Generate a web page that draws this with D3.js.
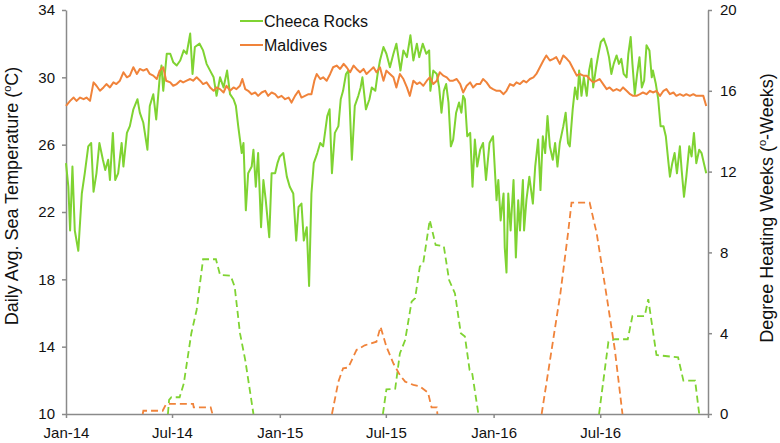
<!DOCTYPE html>
<html>
<head>
<meta charset="utf-8">
<script src="https://cdn.jsdelivr.net/npm/d3@7"></script>
<style>
  body { margin: 0; background: #fff; }
  svg { font-family: "Liberation Sans", Arial, sans-serif; }
</style>
</head>
<body>
<svg id="chart" width="780" height="443"></svg>
<script>
// [day since 1 Jan 2014, value]
let cheecaSst = [[0,24.9],[4,23.5],[7,20.9],[11,24.7],[15,20.9],[21,19.7],[27,23.1],[32,24.3],[38,25.9],[43,26.1],[47,23.2],[52,24.3],[57,26.1],[63,25.1],[67,24.5],[72,25.1],[75,23.9],[80,26.7],[84,23.9],[89,24.3],[95,26.1],[98,24.7],[104,26.7],[109,27.1],[115,28.1],[122,28.7],[126,27.9],[132,27.3],[139,25.7],[143,28.3],[149,29.0],[154,27.5],[160,30.0],[163,30.7],[166,29.2],[172,31.4],[178,31.4],[183,30.9],[189,30.7],[195,31.0],[201,31.6],[206,31.4],[212,32.6],[216,30.2],[220,31.8],[228,32.0],[234,31.6],[240,30.8],[246,30.4],[252,30.0],[257,28.9],[263,30.0],[269,29.4],[275,30.4],[280,29.0],[286,28.7],[290,28.3],[294,27.1],[300,25.5],[303,26.1],[307,22.1],[311,24.3],[317,24.7],[320,25.7],[324,23.5],[328,25.5],[333,21.1],[337,23.9],[341,22.7],[347,20.5],[351,24.3],[357,24.3],[361,24.9],[365,25.3],[371,25.5],[377,24.1],[382,23.5],[388,23.1],[393,20.3],[397,22.3],[402,22.5],[406,20.3],[411,21.1],[415,17.6],[419,23.1],[423,24.9],[429,25.5],[434,26.1],[439,25.9],[446,27.7],[450,28.1],[454,24.3],[459,26.7],[465,27.1],[469,28.7],[473,29.2],[478,30.2],[482,30.4],[488,25.1],[493,28.3],[499,28.9],[503,29.4],[506,30.0],[512,28.1],[518,28.7],[522,29.4],[528,29.2],[532,30.2],[536,31.0],[542,31.8],[547,31.4],[553,30.6],[559,31.4],[564,32.0],[571,30.4],[576,31.6],[582,31.2],[588,32.5],[593,31.0],[599,32.0],[603,31.2],[609,32.0],[615,31.4],[620,31.6],[622,29.2],[627,30.4],[633,30.2],[637,29.4],[641,27.9],[645,29.2],[649,29.6],[653,28.5],[657,25.9],[661,26.3],[666,27.9],[671,28.5],[675,27.9],[678,28.9],[681,28.7],[685,26.5],[690,26.7],[694,23.5],[698,26.3],[702,24.7],[707,25.7],[712,26.1],[717,23.9],[723,26.1],[729,26.5],[735,22.7],[738,23.9],[742,21.5],[747,23.1],[749,19.9],[752,18.4],[755,23.1],[759,20.9],[764,23.9],[768,19.3],[772,22.7],[775,20.9],[780,23.9],[782,20.9],[786,22.7],[791,24.1],[797,22.5],[801,24.7],[806,26.3],[810,23.3],[814,26.5],[818,25.5],[822,27.7],[826,25.9],[831,25.1],[835,26.1],[839,24.7],[843,26.1],[849,27.1],[853,27.9],[857,26.1],[860,25.9],[865,28.1],[869,29.4],[873,28.7],[876,30.4],[880,28.9],[884,30.0],[889,28.9],[893,30.4],[897,31.1],[900,29.4],[905,30.6],[909,31.4],[913,32.1],[918,32.3],[923,31.8],[927,31.2],[931,30.2],[935,30.8],[940,31.3],[944,30.8],[948,31.1],[952,30.2],[957,30.0],[960,31.4],[964,32.4],[967,30.8],[971,29.0],[975,30.2],[979,31.2],[983,29.4],[987,29.8],[991,31.9],[996,31.6],[1000,30.0],[1002,30.4],[1007,29.6],[1011,28.7],[1015,27.1],[1020,27.1],[1024,26.5],[1028,25.1],[1031,24.1],[1035,24.9],[1039,25.5],[1043,24.3],[1048,25.9],[1051,24.5],[1055,22.9],[1059,24.1],[1064,25.9],[1068,25.3],[1072,26.7],[1076,24.9],[1081,25.7],[1085,25.5],[1089,24.9],[1093,24.3]];

let maldivesSst = [[0,28.3],[7,28.6],[13,28.8],[18,28.6],[24,28.8],[30,28.7],[35,28.8],[41,28.6],[47,29.7],[52,29.5],[58,29.2],[64,29.4],[69,29.6],[75,29.4],[81,29.7],[86,29.6],[92,29.8],[98,30.3],[104,30.0],[109,30.1],[115,30.6],[121,30.2],[126,30.5],[132,30.4],[138,30.5],[143,30.2],[149,30.1],[155,29.9],[160,30.4],[166,30.6],[171,29.8],[178,29.7],[183,29.5],[189,29.6],[195,29.8],[200,29.7],[206,29.8],[212,29.9],[217,29.8],[223,30.0],[229,29.8],[234,29.6],[240,29.7],[246,29.4],[252,29.2],[257,29.4],[263,29.3],[269,29.1],[274,29.5],[280,29.2],[286,29.4],[291,29.3],[297,29.5],[301,29.9],[306,29.3],[311,29.2],[317,29.0],[323,29.1],[328,28.9],[334,29.1],[340,29.2],[345,28.9],[351,29.1],[357,29.0],[362,28.8],[368,28.9],[374,28.7],[380,28.8],[385,28.5],[391,28.9],[397,29.2],[402,28.8],[408,28.9],[414,29.0],[419,29.0],[424,29.8],[428,30.2],[434,29.9],[439,30.0],[445,29.8],[451,30.2],[456,30.6],[462,30.7],[468,30.5],[474,30.8],[479,30.6],[485,30.3],[491,30.7],[496,30.5],[502,30.3],[508,30.5],[513,30.2],[519,30.4],[525,30.6],[530,30.3],[536,30.6],[542,29.8],[547,30.4],[553,30.2],[559,30.0],[564,29.4],[570,30.2],[576,29.9],[582,29.4],[587,28.9],[593,29.8],[599,29.6],[604,29.7],[610,29.5],[616,29.8],[621,30.0],[627,29.6],[633,29.8],[638,30.3],[644,30.1],[650,30.0],[655,29.8],[661,29.8],[667,29.9],[673,29.6],[678,29.1],[684,29.5],[690,29.7],[695,29.4],[701,29.6],[707,29.6],[712,29.9],[718,29.7],[724,29.4],[729,29.3],[735,29.2],[741,29.2],[747,29.0],[752,29.2],[758,29.6],[764,29.5],[769,29.7],[775,29.6],[781,29.8],[786,29.7],[792,29.9],[798,30.0],[803,30.2],[809,30.6],[815,31.0],[820,31.3],[826,31.0],[832,31.1],[837,31.2],[843,30.8],[849,31.3],[855,31.1],[860,30.9],[866,30.5],[872,30.1],[877,30.2],[883,30.1],[889,30.1],[894,29.9],[900,29.7],[906,29.8],[911,29.9],[917,29.6],[923,29.3],[928,29.4],[934,29.2],[940,29.3],[946,29.2],[951,29.4],[957,29.2],[963,29.0],[968,28.9],[974,28.9],[980,29.0],[985,29.1],[991,29.0],[997,29.2],[1002,29.1],[1008,29.2],[1014,28.9],[1020,29.2],[1025,29.3],[1031,29.0],[1037,29.1],[1042,28.9],[1048,29.0],[1054,28.9],[1059,29.0],[1065,28.9],[1071,29.0],[1076,28.9],[1082,28.9],[1088,28.9],[1093,28.3]];

// degree heating weeks, null = no line
let cheecaDhw = [[174,0],[176,0.7],[180,0.83],[194,0.83],[201,1.5],[214,4.0],[223,5.15],[234,7.66],[256,7.66],[263,6.88],[281,6.85],[288,6.3],[297,4.0],[306,2.67],[320,0],[321,null],
  [541,0],[547,1.22],[562,1.25],[570,3.0],[579,3.66],[590,5.56],[596,5.73],[604,7.29],[610,7.5],[621,9.6],[631,8.37],[645,8.3],[654,6.63],[664,5.97],[674,4.0],[681,3.84],[689,2.18],[693,2.1],[704,0],[705,null],
  [910,0],[926,3.58],[937,3.7],[959,3.7],[967,4.85],[988,4.85],[994,5.69],[1008,2.92],[1045,2.8],[1054,1.65],[1074,1.65],[1081,0]];

let maldivesDhw = [[131,0],[132,0.16],[165,0.16],[171,0.5],[217,0.5],[218,0.33],[247,0.33],[250,0],[251,null],
  [454,0],[465,1.6],[473,2.26],[482,2.3],[496,3.17],[510,3.4],[530,3.58],[537,4.32],[547,3.33],[559,2.5],[570,1.93],[579,1.6],[593,1.44],[604,1.37],[618,1.06],[624,0.33],[633,0.33],[634,0],[635,null],
  [812,0],[844,5.97],[857,8.94],[863,10.46],[894,10.46],[906,8.94],[924,5.64],[937,3.17],[950,0]];

let seriesNames = ["Cheeca Rocks", "Maldives"];
let tempTicks = [10, 14, 18, 22, 26, 30, 34];
let dhwTicks = [0, 4, 8, 12, 16, 20];
let monthTicks = ["2014-01-01", "2014-07-01", "2015-01-01", "2015-07-01", "2016-01-01", "2016-07-01", "2017-01-01"];
let monthLabels = ["Jan-14", "Jul-14", "Jan-15", "Jul-15", "Jan-16", "Jul-16", ""];

let green = "#7fd332";
let orange = "#f0833a";
let axisGrey = "#8a8a8a";

let svg = d3.select("#chart");
let start = new Date(Date.UTC(2014, 0, 1));
let toDate = (d) => d3.utcDay.offset(start, d);

let x = d3.scaleUtc()
    .domain([start, new Date(Date.UTC(2017, 0, 1))])
    .range([66, 708]);
let yTemp = d3.scaleLinear().domain([10, 34]).range([414, 10]);
let yDhw = d3.scaleLinear().domain([0, 20]).range([414, 10]);

let styleAxis = (g) => {
    g.select(".domain").attr("stroke", axisGrey).attr("stroke-width", 1.5);
    g.selectAll(".tick line").attr("stroke", axisGrey).attr("stroke-width", 1.5);
    g.selectAll(".tick text").attr("fill", "#111").style("font-size", "15px")
        .style("font-family", "'Liberation Sans', Arial, sans-serif");
};

let tickDates = monthTicks.map((s) => new Date(s + "T00:00:00Z"));

svg.append("g")
    .attr("transform", "translate(0,414)")
    .call(d3.axisBottom(x).tickValues(tickDates)
        .tickFormat((d, i) => monthLabels[i])
        .tickSize(4).tickSizeOuter(0).tickPadding(9))
    .call(styleAxis);

svg.append("g")
    .attr("transform", "translate(66,0)")
    .call(d3.axisLeft(yTemp).tickValues(tempTicks)
        .tickSize(4).tickSizeOuter(0).tickPadding(7))
    .call(styleAxis);

svg.append("g")
    .attr("transform", "translate(708,0)")
    .call(d3.axisRight(yDhw).tickValues(dhwTicks)
        .tickSize(4).tickSizeOuter(0).tickPadding(8))
    .call(styleAxis);

let tempLine = d3.line()
    .x((d) => x(toDate(d[0])))
    .y((d) => yTemp(d[1]));

let dhwLine = d3.line()
    .defined((d) => d[1] !== null)
    .x((d) => x(toDate(d[0])))
    .y((d) => yDhw(d[1]));

svg.append("path")
    .attr("d", tempLine(cheecaSst))
    .attr("fill", "none")
    .attr("stroke", green)
    .attr("stroke-width", 2)
    .attr("stroke-linejoin", "round");

svg.append("path")
    .attr("d", tempLine(maldivesSst))
    .attr("fill", "none")
    .attr("stroke", orange)
    .attr("stroke-width", 2)
    .attr("stroke-linejoin", "round");

svg.append("path")
    .attr("d", dhwLine(cheecaDhw))
    .attr("fill", "none")
    .attr("stroke", green)
    .attr("stroke-width", 1.8)
    .attr("stroke-dasharray", "7,4");

svg.append("path")
    .attr("d", dhwLine(maldivesDhw))
    .attr("fill", "none")
    .attr("stroke", orange)
    .attr("stroke-width", 1.8)
    .attr("stroke-dasharray", "7,4");

// legend
let legend = svg.append("g").attr("transform", "translate(240,21)");
[green, orange].forEach((c, i) => {
    legend.append("line")
        .attr("x1", 0).attr("x2", 23)
        .attr("y1", i * 24).attr("y2", i * 24)
        .attr("stroke", c).attr("stroke-width", 2);
    legend.append("text")
        .attr("x", 24).attr("y", i * 24 + 6)
        .style("font-size", "16px")
        .attr("fill", "#111")
        .text(seriesNames[i]);
});

// axis titles
let leftTitle = svg.append("text")
    .attr("transform", "translate(18,196) rotate(-90)")
    .attr("text-anchor", "middle")
    .style("font-size", "18px")
    .attr("fill", "#111");
leftTitle.append("tspan").text("Daily Avg. Sea Temperature (");
leftTitle.append("tspan").attr("dy", -7).style("font-size", "11px").text("o");
leftTitle.append("tspan").attr("dy", 7).text("C)");

let rightTitle = svg.append("text")
    .attr("transform", "translate(773,208) rotate(-90)")
    .attr("text-anchor", "middle")
    .style("font-size", "18px")
    .attr("fill", "#111");
rightTitle.append("tspan").text("Degree Heating Weeks (");
rightTitle.append("tspan").attr("dy", -7).style("font-size", "11px").text("o");
rightTitle.append("tspan").attr("dy", 7).text("-Weeks)");
</script>
</body>
</html>
